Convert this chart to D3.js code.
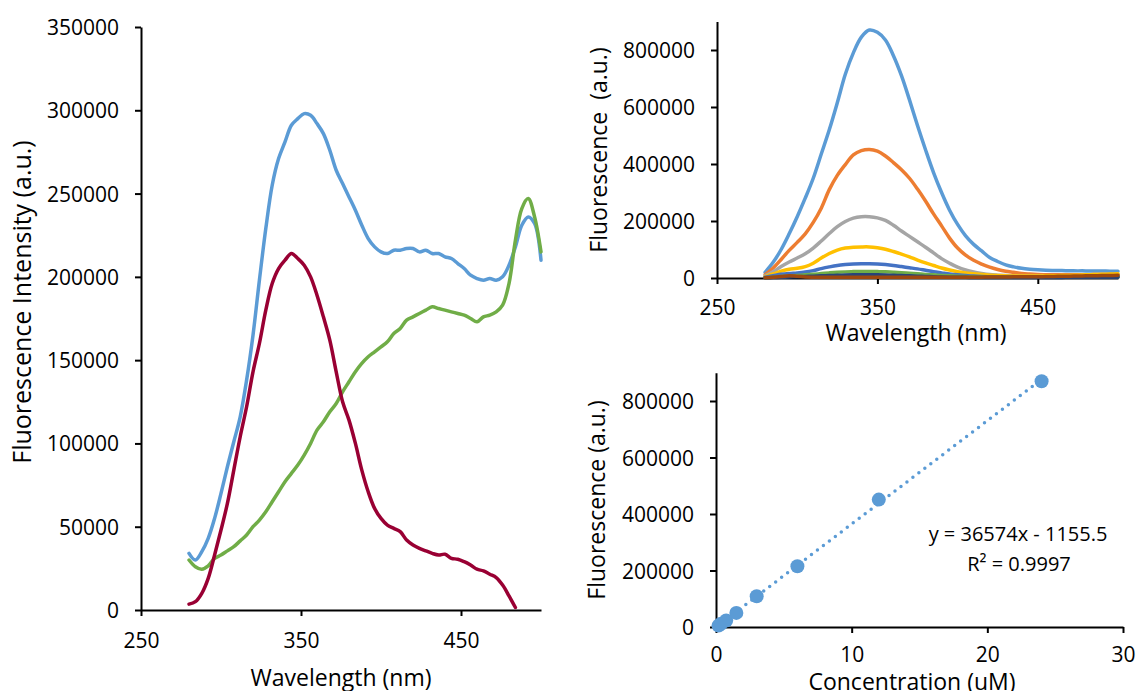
<!DOCTYPE html>
<html><head><meta charset="utf-8">
<script src="https://cdn.jsdelivr.net/npm/d3@7"></script>
<style>
body{margin:0;background:#fff;}
svg{display:block;font-family:"Open Sans",sans-serif;}
</style></head><body>
<svg id="chart" width="1136" height="691"></svg>
<script>
// ---------- Left chart data ----------
const leftWavelengths = [280,284,288,292,296,300,304,308,312,316,320,324,328,332,336,340,344,348,352,356,360,364,368,372,376,380,384,388,392,396,400,404,408,412,416,420,424,428,432,436,440,444,448,452,456,460,464,468,472,476,480,484,488,492,496,500];
const leftBlue = [34000,30000,35000,43000,55000,70000,86000,101000,116000,138000,165000,198000,229000,255000,271000,281000,291000,295000,298000,297000,292000,286000,276000,264000,256000,248000,240000,231000,223000,218000,215000,214000,216000,216000,217000,217000,215000,216000,214000,214000,212000,211000,208000,205000,201000,199000,198000,199000,198000,200000,207000,218000,231000,236000,232000,210000];
const leftGreen = [30000,26000,24500,26500,31000,33000,35500,38000,41500,45000,50000,54000,59000,65000,71000,77000,82000,87000,93000,100000,108000,113000,119000,124000,131000,137000,143000,148000,152000,155000,158000,161000,166000,169000,174000,176000,178000,180000,182000,181000,180000,179000,178000,177000,175000,173000,176000,177000,179000,183000,196000,222000,241000,247000,236000,215000];
const leftRed = [3500,5000,10000,19000,33000,48000,64000,84000,104000,122000,143000,160000,180000,196000,205000,210000,214000,211000,207000,200000,189000,176000,162000,143000,125000,114000,100000,84000,71000,61000,55000,51000,49000,47000,42000,39000,37000,35500,34000,33000,33500,31000,30500,29000,27000,24500,23500,21500,19500,15000,8500,1500,null,null,null,null];
const leftXTicks = [250,350,450];
const leftYTicks = [0,50000,100000,150000,200000,250000,300000,350000];

// ---------- Top-right spectra data ----------
const spectraWavelengths = [280,285,290,295,300,305,310,315,320,325,330,335,340,345,350,355,360,365,370,375,380,385,390,395,400,405,410,415,420,425,430,435,440,445,450,455,460,465,470,475,480,485,490,495,500];
const spectrum24uM = [20000,55000,100000,155000,215000,280000,350000,435000,520000,615000,715000,790000,845000,870000,862000,835000,780000,710000,625000,535000,450000,370000,300000,238000,188000,148000,118000,95000,72000,58000,46000,39000,34000,31000,29000,27500,26500,26000,25500,25000,25000,24500,24500,24000,24000];
const spectrum12uM = [12000,35000,65000,97000,125000,155000,195000,245000,310000,360000,398000,432000,447000,451000,445000,428000,405000,380000,350000,312000,270000,225000,183000,140000,105000,80000,62000,49000,38000,30000,24000,20000,16000,14000,12500,11500,11000,11000,11000,11500,11500,12000,12000,12500,12500];
const spectrum6uM = [8000,22000,40000,56000,70000,85000,105000,130000,156000,180000,198000,210000,215000,215000,211000,202000,185000,165000,146000,127000,108000,88000,68000,52000,38000,28000,21000,16000,12000,10000,8500,7500,7000,7000,7000,7000,7000,7500,7500,7500,8000,8000,8000,8500,8500];
const spectrum3uM = [5000,14000,24000,31000,34000,40000,52000,70000,86000,98000,105000,108000,109000,109000,106000,101000,93000,84000,74000,63000,53000,44000,35000,28000,22000,18000,15000,12000,10000,8500,7500,7000,7000,7000,7000,7500,8000,8500,9000,10000,11000,12000,13000,14000,15000];
const spectrum1p5uM = [3000,8000,13000,16000,18000,21000,26000,33000,39000,44000,47000,49000,50000,50000,49000,47000,44000,40000,36000,32000,27000,22000,18000,14000,11000,8500,7000,5500,4500,4000,3500,3500,3500,3500,3500,3500,3500,4000,4000,4000,4500,4500,5000,5000,5000];
const spectrum0p75uM = [1000,3000,5000,7000,9000,11000,13000,15500,18000,20000,21500,22500,23000,23000,22500,21500,20000,18500,16500,14500,12500,11000,9000,7500,6000,5000,4200,3500,3000,3000,3000,3000,3000,3000,3000,3000,3000,3000,3500,3500,3500,3500,3500,3500,3500];
const spectrum0p375uM = [500,1500,2500,3500,4500,5500,6500,7500,8500,9500,10500,11000,11500,11500,11000,10500,9500,8500,7500,6500,5500,4500,3500,3000,2500,2200,2000,2000,2000,2000,2000,2000,2000,2000,2000,2000,2000,2000,2500,2500,2500,2500,2500,2500,2500];
const spectrum0p1875uM = [1000,2500,5000,8000,6000,3500,3000,3000,3000,3000,3000,3000,3000,3000,3000,3000,3000,3000,3000,3000,3000,3000,3000,3000,3000,3000,3000,3000,3500,3500,3500,4000,4000,4500,4500,5000,5500,6000,6500,7000,7500,8000,8500,9000,9500];
const spectraXTicks = [250,350,450];
const spectraYTicks = [0,200000,400000,600000,800000];

// ---------- Bottom-right calibration data ----------
const concentrations = [0.1875,0.375,0.75,1.5,3,6,12,24];
const concFluorescence = [5000,11500,23000,50000,109000,215000,451000,870000];
const trendSlope = 36574, trendIntercept = -1155.5;
const trendEquation = "y = 36574x - 1155.5";
const trendR2 = "R² = 0.9997";
const calXTicks = [0,10,20,30];
const calYTicks = [0,200000,400000,600000,800000];

const svg = d3.select("#chart");
const FONT_TICK = 21, FONT_TITLE = 23;

function styleAxis(g, fs){
  g.select(".domain").attr("stroke","#000").attr("stroke-width",2);
  g.selectAll(".tick line").attr("stroke","#000").attr("stroke-width",2);
  g.selectAll(".tick text").attr("fill","#000").attr("font-size",fs).attr("font-family","Open Sans");
}

// ================= LEFT CHART =================
{
  const x = d3.scaleLinear().domain([250,500]).range([141,541]);
  const y = d3.scaleLinear().domain([0,350000]).range([610,27]);
  const gx = svg.append("g").attr("transform","translate(0,610)")
    .call(d3.axisBottom(x).tickValues(leftXTicks).tickSize(6).tickSizeOuter(0).tickPadding(17).tickFormat(d3.format("d")));
  styleAxis(gx, FONT_TICK);
  const gy = svg.append("g").attr("transform","translate(141,0)")
    .call(d3.axisLeft(y).tickValues(leftYTicks).tickSize(6).tickSizeOuter(0).tickPadding(16).tickFormat(d3.format("d")));
  styleAxis(gy, FONT_TICK);
  gy.selectAll(".tick text").attr("dy","0.36em");

  const series = [
    {vals:leftBlue, color:"#5B9BD5"},
    {vals:leftGreen, color:"#70AD47"},
    {vals:leftRed, color:"#990033"}
  ];
  const line = d3.line()
    .defined(d=>d[1]!==null)
    .x(d=>x(d[0])).y(d=>y(d[1]))
    .curve(d3.curveCatmullRom);
  series.forEach(s=>{
    svg.append("path")
      .datum(leftWavelengths.map((w,i)=>[w,s.vals[i]]))
      .attr("d",line).attr("fill","none").attr("stroke",s.color)
      .attr("stroke-width",3.5).attr("stroke-linejoin","round").attr("stroke-linecap","round");
  });
  svg.append("text").attr("x",341).attr("y",678).attr("dy","0.35em")
    .attr("text-anchor","middle").attr("font-size",FONT_TITLE).attr("fill","#000")
    .text("Wavelength (nm)");
  svg.append("text").attr("transform","translate(22,302) rotate(-90)").attr("dy","0.35em")
    .attr("text-anchor","middle").attr("font-size",25).attr("fill","#000")
    .text("Fluorescence Intensity (a.u.)");
}

// ================= TOP-RIGHT CHART =================
{
  const x = d3.scaleLinear().domain([250,500]).range([717,1118]);
  const y = d3.scaleLinear().domain([0,900000]).range([278,21.5]);
  const series = [
    {vals:spectrum24uM, color:"#5B9BD5"},
    {vals:spectrum12uM, color:"#ED7D31"},
    {vals:spectrum6uM, color:"#A5A5A5"},
    {vals:spectrum3uM, color:"#FFC000"},
    {vals:spectrum1p5uM, color:"#4472C4"},
    {vals:spectrum0p75uM, color:"#70AD47"},
    {vals:spectrum0p375uM, color:"#264478"},
    {vals:spectrum0p1875uM, color:"#9E480E"}
  ];
  const gx = svg.append("g").attr("transform","translate(0,278)")
    .call(d3.axisBottom(x).tickValues(spectraXTicks).tickSize(6).tickSizeOuter(0).tickPadding(16).tickFormat(d3.format("d")));
  styleAxis(gx, FONT_TICK);
  const gy = svg.append("g").attr("transform","translate(717,0)")
    .call(d3.axisLeft(y).tickValues(spectraYTicks).tickSize(6).tickSizeOuter(0).tickPadding(16).tickFormat(d3.format("d")));
  styleAxis(gy, FONT_TICK);
  gy.selectAll(".tick text").attr("dy","0.36em");
  const line = d3.line().x(d=>x(d[0])).y(d=>y(d[1])).curve(d3.curveCatmullRom);
  series.forEach(s=>{
    svg.append("path")
      .datum(spectraWavelengths.map((w,i)=>[w,s.vals[i]]))
      .attr("d",line).attr("fill","none").attr("stroke",s.color)
      .attr("stroke-width",3.5).attr("stroke-linejoin","round").attr("stroke-linecap","round");
  });
  svg.append("text").attr("x",916).attr("y",333).attr("dy","0.35em")
    .attr("text-anchor","middle").attr("font-size",FONT_TITLE).attr("fill","#000")
    .text("Wavelength (nm)");
  svg.append("text").attr("transform","translate(599,150) rotate(-90)").attr("dy","0.35em")
    .attr("text-anchor","middle").attr("font-size",FONT_TITLE).attr("fill","#000")
    .attr("xml:space","preserve").style("white-space","pre")
    .text("Fluorescence  (a.u.)");
}

// ================= BOTTOM-RIGHT CHART =================
{
  const x = d3.scaleLinear().domain([0,30]).range([716,1123]);
  const y = d3.scaleLinear().domain([0,900000]).range([627,372.75]);
  const gx = svg.append("g").attr("transform","translate(0,627)")
    .call(d3.axisBottom(x).tickValues(calXTicks).tickSize(6).tickSizeOuter(0).tickPadding(14).tickFormat(d3.format("d")));
  styleAxis(gx, FONT_TICK);
  const gy = svg.append("g").attr("transform","translate(716,0)")
    .call(d3.axisLeft(y).tickValues(calYTicks).tickSize(6).tickSizeOuter(0).tickPadding(16).tickFormat(d3.format("d")));
  styleAxis(gy, FONT_TICK);
  gy.selectAll(".tick text").attr("dy","0.36em");

  const trendX = [0, d3.max(concentrations)];
  svg.append("path")
    .datum(trendX.map(c=>[c, trendSlope*c + trendIntercept]))
    .attr("d", d3.line().x(d=>x(d[0])).y(d=>y(d[1])))
    .attr("fill","none").attr("stroke","#5B9BD5").attr("stroke-width",3.5)
    .attr("stroke-linecap","round").attr("stroke-dasharray","0 7.5");

  svg.append("g").selectAll("circle")
    .data(concentrations.map((c,i)=>[c, concFluorescence[i]]))
    .join("circle")
    .attr("cx",d=>x(d[0])).attr("cy",d=>y(d[1])).attr("r",7)
    .attr("fill","#5B9BD5");

  svg.append("text").attr("x",1018).attr("y",534).attr("dy","0.35em")
    .attr("text-anchor","middle").attr("font-size",20).attr("fill","#000")
    .text(trendEquation);
  svg.append("text").attr("x",1019).attr("y",564).attr("dy","0.35em")
    .attr("text-anchor","middle").attr("font-size",20).attr("fill","#000")
    .text(trendR2);
  svg.append("text").attr("x",912).attr("y",682).attr("dy","0.35em")
    .attr("text-anchor","middle").attr("font-size",FONT_TITLE).attr("fill","#000")
    .text("Concentration (uM)");
  svg.append("text").attr("transform","translate(597,500) rotate(-90)").attr("dy","0.35em")
    .attr("text-anchor","middle").attr("font-size",FONT_TITLE).attr("fill","#000")
    .text("Fluorescence (a.u.)");
}
</script>
</body></html>
